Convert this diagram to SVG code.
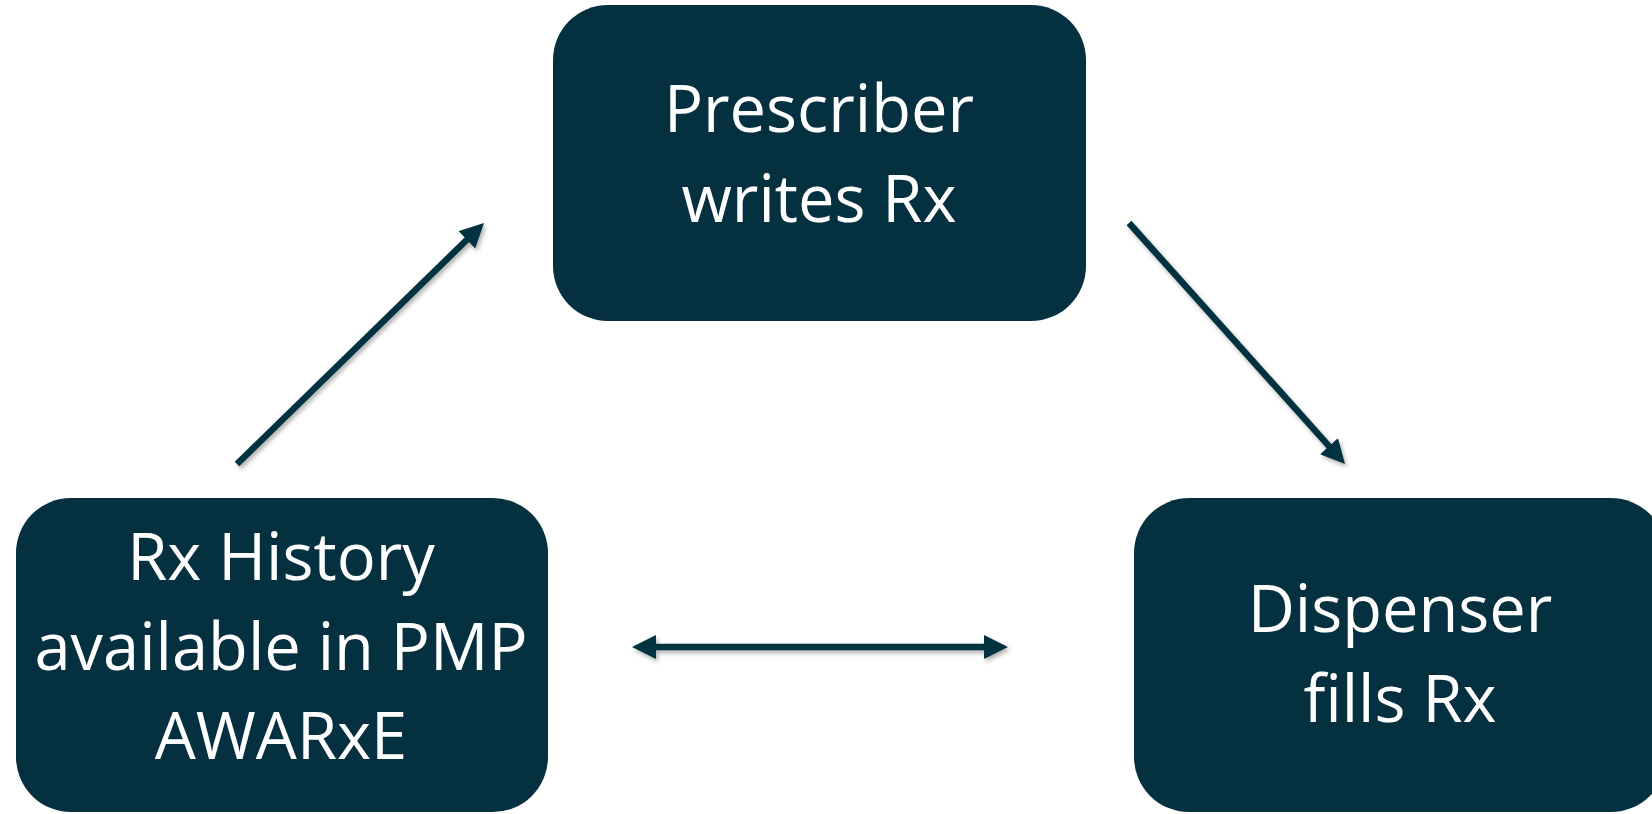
<svg xmlns="http://www.w3.org/2000/svg" width="1652" height="814" viewBox="0 0 1652 814">
  <defs>
    <style>
      .box { fill: #04303F; }
      .label { fill: #FFFFFF; font-family: "Open Sans", "Noto Sans", sans-serif; font-size: 65px; text-anchor: middle; }
      .conn { stroke: #04303F; stroke-width: 6.5; fill: none; }
    </style>
    <marker id="arrow" markerUnits="userSpaceOnUse" markerWidth="24" markerHeight="24" refX="4" refY="12" orient="auto-start-reverse" viewBox="0 0 24 24">
      <path d="M0,0 L24,12 L0,24 z" fill="#04303F"/>
    </marker>
    <filter id="shadow" x="-20%" y="-20%" width="140%" height="140%">
      <feDropShadow dx="2" dy="3" stdDeviation="2" flood-color="#000000" flood-opacity="0.3"/>
    </filter>
  </defs>
  <rect width="1652" height="814" fill="#FFFFFF"/>

  <g id="prescriber">
    <rect class="box" x="553" y="5" width="533" height="316" rx="55" ry="55"/>
    <text class="label" x="819" y="132">Prescriber</text>
    <text class="label" x="819" y="222">writes Rx</text>
  </g>

  <g id="history">
    <rect class="box" x="16" y="498" width="532" height="314" rx="55" ry="55"/>
    <text class="label" x="281" y="580">Rx History</text>
    <text class="label" x="281" y="670">available in PMP</text>
    <text class="label" x="281" y="759">AWARxE</text>
  </g>

  <g id="dispenser">
    <rect class="box" x="1134" y="498" width="532" height="314" rx="55" ry="55"/>
    <text class="label" x="1400" y="632">Dispenser</text>
    <text class="label" x="1400" y="722">fills Rx</text>
  </g>

  <g id="connectors" filter="url(#shadow)">
    <line class="conn" x1="237" y1="464" x2="469.7" y2="237" marker-end="url(#arrow)"/>
    <line class="conn" x1="1129" y1="223" x2="1331.7" y2="449.1" marker-end="url(#arrow)"/>
    <line class="conn" x1="652" y1="647" x2="988" y2="647" marker-start="url(#arrow)" marker-end="url(#arrow)"/>
  </g>
</svg>
